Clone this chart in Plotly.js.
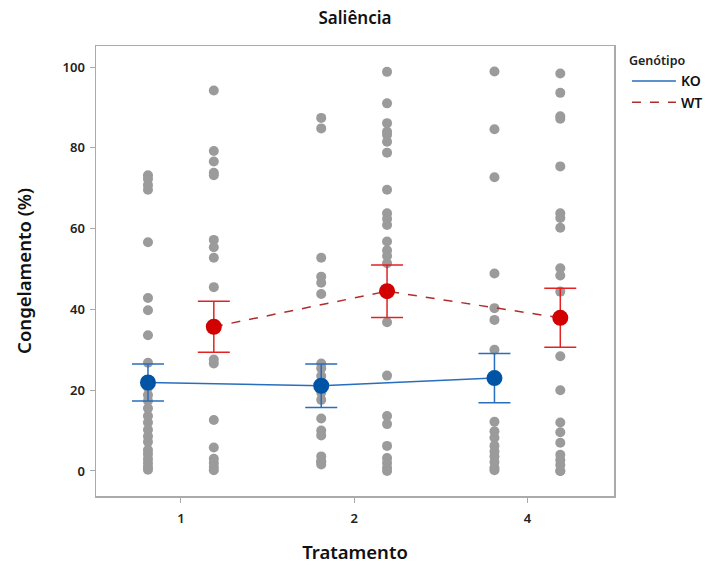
<!DOCTYPE html>
<html>
<head>
<meta charset="utf-8">
<script src="https://cdn.plot.ly/plotly-3.0.1.min.js"></script>
<style>html,body{margin:0;padding:0;background:#fff}#chart{width:708px;height:572px}</style>
</head>
<body>
<div id="chart"></div>
<script>
// ---- data ----
const categories = ['1', '2', '4'];
const koValues = [
  [73.2, 72.3, 70.8, 69.6, 56.6, 42.8, 39.8, 33.6, 26.8, 20.6, 18.8, 17.4, 15.5, 13.6, 12.0, 10.2, 8.6, 7.2, 5.2, 4.2, 3.0, 2.0, 1.0, 0.3],
  [87.4, 84.8, 52.8, 48.1, 46.6, 43.8, 26.6, 25.4, 23.5, 19.4, 17.6, 13.0, 10.0, 8.8, 3.6, 2.4, 2.2, 1.6],
  [98.9, 84.6, 72.7, 48.9, 40.3, 37.4, 30.0, 12.2, 9.8, 8.2, 6.2, 4.8, 3.6, 2.2, 0.8, 0.2]
];
const wtValues = [
  [94.2, 79.2, 76.6, 73.8, 73.2, 57.2, 55.4, 52.8, 45.5, 27.6, 26.6, 12.6, 5.8, 3.0, 2.0, 1.0, 0.2],
  [98.8, 91.0, 86.1, 84.0, 83.2, 81.5, 78.8, 69.6, 63.8, 62.4, 60.9, 56.8, 54.6, 53.2, 51.4, 36.8, 23.6, 13.6, 11.6, 6.2, 3.2, 2.0, 0.8, 0.0],
  [98.4, 93.6, 87.8, 87.2, 75.4, 63.8, 62.6, 60.2, 50.2, 48.4, 44.4, 28.4, 20.0, 12.0, 9.6, 7.0, 4.0, 2.7, 1.5, 0.0, 0.0]
];
const koMean = [21.9, 21.1, 23.0];
const koErr  = [4.6, 5.4, 6.1];
const wtMean = [35.7, 44.5, 37.9];
const wtErr  = [6.3, 6.5, 7.3];
const yTicks = [0, 20, 40, 60, 80, 100];

// ---- build ----
const OFF = 0.19;
function pts(vals, off) {
  const x = [], y = [];
  vals.forEach((arr, i) => arr.forEach(v => { x.push(i + off); y.push(v); }));
  return {x, y};
}
const ko = pts(koValues, -OFF), wt = pts(wtValues, OFF);
const idx = categories.map((c, i) => i);
const gray = 'rgb(155,155,155)';
const blue = 'rgb(0,84,166)', blueLine = 'rgb(40,110,190)';
const red = 'rgb(210,0,0)', redLine = 'rgb(175,45,45)', redBar = 'rgb(225,35,35)';

const traces = [
  {x: ko.x, y: ko.y, type: 'scatter', mode: 'markers', showlegend: false, hoverinfo: 'skip',
   marker: {color: gray, size: 10}},
  {x: wt.x, y: wt.y, type: 'scatter', mode: 'markers', showlegend: false, hoverinfo: 'skip',
   marker: {color: gray, size: 10}},
  {x: idx.map(i => i - OFF), y: koMean, type: 'scatter', mode: 'lines', name: 'KO',
   line: {color: blueLine, width: 1.5}},
  {x: idx.map(i => i + OFF), y: wtMean, type: 'scatter', mode: 'lines', name: 'WT',
   line: {color: redLine, width: 1.5, dash: 'dash'}},
  {x: idx.map(i => i - OFF), y: koMean, type: 'scatter', mode: 'markers', showlegend: false,
   marker: {color: blue, size: 16},
   error_y: {type: 'data', array: koErr, visible: true, color: blueLine, thickness: 1.5, width: 16}},
  {x: idx.map(i => i + OFF), y: wtMean, type: 'scatter', mode: 'markers', showlegend: false,
   marker: {color: red, size: 16},
   error_y: {type: 'data', array: wtErr, visible: true, color: redBar, thickness: 1.5, width: 16}}
];

const FONT = 'Noto Sans, Open Sans, sans-serif';
const layout = {
  width: 708, height: 572,
  margin: {l: 96, r: 94, t: 46, b: 76, autoexpand: false},
  paper_bgcolor: '#fff', plot_bgcolor: '#fff',
  font: {family: FONT, color: '#222'},
  title: {text: 'Saliência', x: 0.5, xref: 'paper', xanchor: 'center', y: 0.968, yanchor: 'middle',
          font: {size: 17, weight: 600, color: '#111'}},
  xaxis: {
    range: [-0.49, 2.5], tickvals: idx, ticktext: categories,
    showgrid: false, zeroline: false, showline: true, mirror: true,
    linecolor: 'rgb(170,170,170)', linewidth: 1.5,
    ticks: 'outside', ticklen: 5, tickcolor: 'rgb(170,170,170)', ticklabelstandoff: 5,
    tickfont: {size: 13, weight: 600, color: '#222'},
    title: {text: 'Tratamento', font: {size: 18.5, weight: 600, color: '#111'}, standoff: 20}
  },
  yaxis: {
    range: [-6.2, 105.2], tickvals: yTicks, ticktext: yTicks.map(String),
    showgrid: false, zeroline: false, showline: true, mirror: true,
    linecolor: 'rgb(170,170,170)', linewidth: 1.5,
    ticks: 'outside', ticklen: 5, tickcolor: 'rgb(170,170,170)', ticklabelstandoff: 2,
    tickfont: {size: 13, weight: 600, color: '#222'},
    title: {text: 'Congelamento (%)', font: {size: 18.5, weight: 600, color: '#111'}, standoff: 26}
  },
  legend: {
    x: 1.025, xanchor: 'left', y: 0.993, yanchor: 'top',
    bgcolor: 'rgba(0,0,0,0)', borderwidth: 0,
    title: {text: 'Genótipo', font: {size: 12.5, weight: 600, color: '#222'}},
    font: {size: 14, weight: 600, color: '#111'},
    tracegroupgap: 0, itemwidth: 44
  }
};

Plotly.newPlot('chart', traces, layout, {displayModeBar: false, staticPlot: true});
</script>
</body>
</html>
